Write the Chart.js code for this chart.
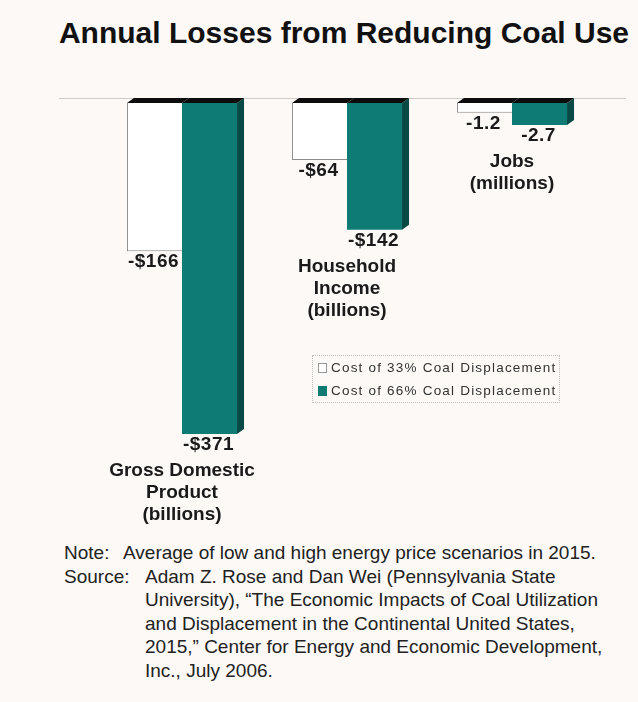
<!DOCTYPE html>
<html>
<head>
<meta charset="utf-8">
<script src="https://cdn.jsdelivr.net/npm/chart.js@4.4.1/dist/chart.umd.min.js"></script>
<style>
  body { margin: 0; background: #fcf9f6; font-family: 'Liberation Sans', Arial, sans-serif; }
  #page { position: relative; width: 638px; height: 702px; overflow: hidden; }
  #title { position: absolute; left: 0; top: 16px; width: 688px; text-align: center; font-size: 30px; font-weight: bold; color: #111; margin: 0; }
  #chart-box { position: absolute; left: 0; top: 0; width: 638px; height: 530px; }
  #legend { position: absolute; left: 312px; top: 355px; width: 246px; height: 46px; border: 1px dotted #bdbdbd; font-size: 13.5px; letter-spacing: 1.2px; color: #333; }
  #legend div { height: 23px; line-height: 23px; padding-left: 5px; white-space: nowrap; }
  #legend span.box { display: inline-block; width: 7px; height: 8px; margin-right: 4px; vertical-align: -1px; }
  #notes { position: absolute; left: 64px; top: 541px; font-size: 19px; line-height: 23.5px; color: #222; }
  #notes .row { display: flex; white-space: nowrap; }
  #notes .head { flex: none; }
</style>
</head>
<body>
<div id="page">
  <h1 id="title">Annual Losses from Reducing Coal Use</h1>
  <div id="chart-box"><canvas id="losses"></canvas></div>
  <div id="legend"></div>
  <div id="notes">
    <div class="row"><div class="head" style="width:59px">Note:</div><div>Average of low and high energy price scenarios in 2015.</div></div>
    <div class="row"><div class="head" style="width:81px">Source:</div><div>Adam Z. Rose and Dan Wei (Pennsylvania State<br>University), “The Economic Impacts of Coal Utilization<br>and Displacement in the Continental United States,<br>2015,” Center for Energy and Economic Development,<br>Inc., July 2006.</div></div>
  </div>
</div>
<script>
const categories = [
  ['Gross Domestic', 'Product', '(billions)'],
  ['Household', 'Income', '(billions)'],
  ['Jobs', '(millions)']
];
const seriesNames = ['Cost of 33% Coal Displacement', 'Cost of 66% Coal Displacement'];
// dollar losses, billions
const dollars33 = [-166, -64, null];
const dollars66 = [-371, -142, null];
// job losses, millions
const jobs33 = [null, null, -1.2];
const jobs66 = [null, null, -2.7];

const dollarMin = -400;
const jobsRatio = 9.1;   // billions drawn per million jobs

const white = '#ffffff';
const teal = '#0e7c75';
const tealSide = '#0a4a46';
const depthX = 7, depthY = 5;

const fmt = (v, money) => money ? '-$' + Math.abs(v) : String(v);

const boxes = {
  id: 'boxes',
  beforeDatasetsDraw(chart) {
    const ctx = chart.ctx;
    const zero = chart.scales.y.getPixelForValue(0);
    ctx.save();
    ctx.strokeStyle = '#cfcbc8';
    ctx.lineWidth = 1;
    ctx.beginPath();
    ctx.moveTo(59, zero - depthY + 0.5);
    ctx.lineTo(626, zero - depthY + 0.5);
    ctx.stroke();
    ctx.restore();
  },
  afterDatasetsDraw(chart) {
    const ctx = chart.ctx;
    ctx.save();
    chart.data.datasets.forEach((ds, di) => {
      const meta = chart.getDatasetMeta(di);
      meta.data.forEach((bar, i) => {
        if (ds.data[i] == null) return;
        const left = bar.x - bar.width / 2, right = bar.x + bar.width / 2;
        const top = Math.min(bar.y, bar.base), bottom = Math.max(bar.y, bar.base);
        if (ds.side) {
          ctx.fillStyle = tealSide;
          ctx.beginPath();
          ctx.moveTo(right, top);
          ctx.lineTo(right + depthX, top - depthY);
          ctx.lineTo(right + depthX, bottom - depthY);
          ctx.lineTo(right, bottom);
          ctx.closePath();
          ctx.fill();
        }
        ctx.fillStyle = '#0c0c0c';
        ctx.beginPath();
        ctx.moveTo(left, top);
        ctx.lineTo(right, top);
        ctx.lineTo(right + depthX, top - depthY);
        ctx.lineTo(left + depthX, top - depthY);
        ctx.closePath();
        ctx.fill();

        // value under each bar
        ctx.fillStyle = '#1a1a1a';
        ctx.font = 'bold 19px "Liberation Sans", Arial, sans-serif';
        ctx.letterSpacing = '0.5px';
        ctx.textAlign = 'center';
        ctx.textBaseline = 'middle';
        ctx.fillText(fmt(ds.data[i], ds.money), bar.x - 1, bottom + 11);
      });
    });

    // category names under the deeper bar of each group
    ctx.font = 'bold 19px "Liberation Sans", Arial, sans-serif';
    ctx.letterSpacing = '0px';
    ctx.fillStyle = '#1a1a1a';
    chart.data.labels.forEach((lines, i) => {
      let deepest = -Infinity, cx = 0;
      chart.data.datasets.forEach((ds, di) => {
        if (ds.data[i] == null) return;
        const bar = chart.getDatasetMeta(di).data[i];
        if (bar.y > deepest) { deepest = bar.y; cx = bar.x; }
      });
      const first = chart.getDatasetMeta(i < 2 ? 0 : 2).data[i];
      cx = (first.x - first.width / 2 + cx + first.width / 2) / 2;
      lines.forEach((t, k) => ctx.fillText(t, cx, deepest + 37 + k * 22));
    });
    ctx.restore();
  }
};

const barStyle = { categoryPercentage: 0.667, barPercentage: 1.0, skipNull: true };

const chart = new Chart(document.getElementById('losses'), {
  type: 'bar',
  data: {
    labels: categories,
    datasets: [
      { label: seriesNames[0], data: dollars33, yAxisID: 'y', money: true, backgroundColor: white,
        borderColor: '#8c8c8c', borderWidth: { left: 1, bottom: 1, top: 0, right: 0 }, borderSkipped: false, ...barStyle },
      { label: seriesNames[1], data: dollars66, yAxisID: 'y', money: true, side: true, backgroundColor: teal, borderWidth: 0, ...barStyle },
      { label: seriesNames[0], data: jobs33, yAxisID: 'y2', backgroundColor: white,
        borderColor: '#8c8c8c', borderWidth: { left: 1, bottom: 1, top: 0, right: 0 }, borderSkipped: false, ...barStyle },
      { label: seriesNames[1], data: jobs66, yAxisID: 'y2', side: true, backgroundColor: teal, borderWidth: 0, ...barStyle }
    ]
  },
  options: {
    responsive: true,
    maintainAspectRatio: false,
    animation: false,
    layout: { padding: { left: 99.5, right: 43.5, top: 103, bottom: 70 } },
    plugins: { legend: { display: false }, tooltip: { enabled: false } },
    scales: {
      x: { display: false },
      y: { display: false, min: dollarMin, max: 0 },
      y2: { display: false, min: dollarMin / jobsRatio, max: 0 }
    }
  },
  plugins: [boxes]
});

// legend from the first two series
const legend = document.getElementById('legend');
chart.data.datasets.slice(0, 2).forEach(ds => {
  const row = document.createElement('div');
  const box = document.createElement('span');
  box.className = 'box';
  box.style.background = ds.backgroundColor;
  box.style.border = ds.backgroundColor === white ? '1px solid #999' : '1px solid ' + teal;
  row.appendChild(box);
  row.appendChild(document.createTextNode(ds.label));
  legend.appendChild(row);
});
</script>
</body>
</html>
